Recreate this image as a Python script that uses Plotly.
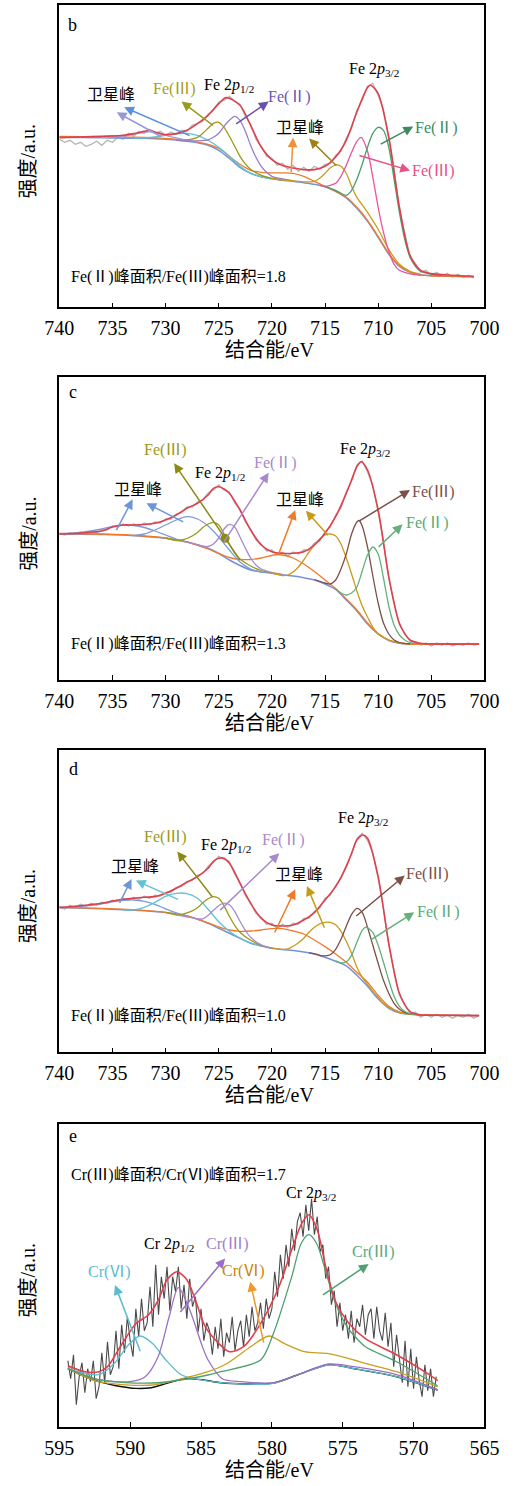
import plotly.graph_objects as go

W, H = 528, 1486
FONT = "Liberation Serif, Times New Roman, Noto Sans CJK SC, serif"

# ================= panel b (Fe 2p) =================
b_raw_x = [740,739.5,739,738.5,738,737.5,737,736.5,736,735.5,735,734.5,734,733.5,733,732.5,732,731.5,731,730.5,
           730,729.5,729,728.5,728,727.5,727,726.5,726,725.5,725,724.5,724,723.5,723,722.5,722,721.5,721,720.5,
           720,719.5,719,718.5,718,717.5,717,716.5,716,715.5,715,714.5,714,713.5,713,712.5,712,711.5,711,710.5,
           710,709.5,709,708.5,708,707.5,707,706.5,706,705.5,705,704.5,704,703.5,703,702.5,702,701.5,701]
b_raw_y = [168,165,167,163,165,161,163,166,162,167,165,170,168,174,171,176,174,178,174,176,
           172,175,173,177,176,182,184,186,193,197,205,207,211,206,203,191,183,168,161,151,
           149,142,144,138,142,136,140,136,141,138,143,144,152,156,169,179,197,207,221,224,
           212,198,168,137,98,75,50,44,35,37,32,35,31,34,30,33,30,32,29]
b_fit_x = [740,738,736,734,733,732,731.5,731,730,729,728,727,726,725,724.3,723,722,721,720,719,718,717,716,715,714,713,712,711,710.7,710,709,708,707,706,705,703,701]
b_fit_y = [169.7,170.3,171,172,173.7,176,177,175.3,172.7,173.7,177,183.7,192,203.7,209.7,202,182,160.3,147.7,141.7,139.3,137.7,137.7,141,150.3,167,195.3,219.7,222,213.7,170.3,100.3,52,37,33.7,32,31]
b_bg_x = [740,736,732,730,728,727,726,725,724,723,722,721,720,719,718,717,716,715,714,713,712,711,710,709,708,707,706,705,703,701]
b_bg_y = [170,169.5,169,168,166,164.5,162,157,149,140,134,130.5,128.5,127,126,124.5,123,120.5,116,109.5,99,86,70,53,41,35,32.5,31.5,31,30.5]
b_or_x = [740,736,732,730,728,726,725,724,723,722,721,720,719,718,717,716,715,714,713,712,711,710,709,708,707,706,705,703,701]
b_or_y = [171,170.5,170,169,167,163,159,151,143,137,135,134.5,134.5,134,131,126,121,116,110,100,87,71,54,41.5,35.5,32.5,31.5,31,30.5]
b_lav_x = [736,734,733,732,731.5,731,730,729,728,727]
b_lav_y = [170,171,173,175,175.5,175,172,169.5,167,165]
b_cy_x = [733,732,731,730,729,728,727,726,725,724,723,722,721,720]
b_cy_y = [169,169.5,170.5,172,173.5,174,172,167,160,151,141,134,130.5,128.5]
b_ol_x = [729,728,727,726.5,726,725.5,725,724.5,724,723.5,723,722.5,722,721,720,719]
b_ol_y = [167,167.5,170,174,179,184,185,180,171,161,151,143.5,138,132,129,127]
b_pu_x = [729,728,727,726,725.5,725,724.5,724,723.5,723,722.5,722,721.5,721,720.5,720,719,718]
b_pu_y = [167,166.5,166.5,167.5,170,174,181,187,191,187,176,162,150,141,135,131,128.5,126.5]
b_ye_x = [720,719,718,717,716,715.5,715,714.5,714,713.5,713,712.5,712,711,710,709,708,707,706]
b_ye_y = [129,127.5,126.5,125.5,126,129,134,139.5,142.5,141,134,121,110,95,78,58,43,36,33]
b_pk_x = [715.5,715,714.5,714,713.5,713,712.5,712,711.6,711,710.5,710,709.5,709,708.5,708,707,706]
b_pk_y = [122,121,122,124,131,142,155,166,170,156,130,100,75,56,43,37,33.5,32]
b_gr_x = [715,714,713,712.5,712,711.5,711,710.5,710,709.5,709,708.5,708,707.5,707,706.5,706,705,704]
b_gr_y = [121,117,112,117,128,143,160,174,180,177,160,128,95,68,50,41,36,33,32]

# ================= panel c =================
c_raw_x = [740,739.5,739,738.5,738,737.5,737,736.5,736,735.5,735,734.5,734,733.5,733,732.5,732,731.5,731,730.5,
           730,729.5,729,728.5,728,727.5,727,726.5,726,725.5,725,724.5,724,723.5,723,722.5,722,721.5,721,720.5,
           720,719.5,719,718.5,718,717.5,717,716.5,716,715.5,715,714.5,714,713.5,713,712.5,712,711.5,711,710.5,
           710,709.5,709,708.5,708,707.5,707,706.5,706,705.5,705,704.5,704,703.5,703,702.5,702,701.5,701,700.5]
c_raw_y = [147,145,147,146,148,146,149,147,150,150,154,153,156,154,156,154,157,155,158,157,
           161,161,166,167,173,173,178,180,187,190,195,190,188,177,171,158,151,140,136,129,
           130,125,128,124,128,126,130,130,137,139,148,153,165,172,188,199,215,219,208,194,
           168,139,101,79,55,47,39,38,35,37,34,37,35,37,34,36,35,37,35,36]
c_fit_x = [740,738,736,735,734,733,732,731,730,729,728,727,726,725.5,725,724.5,724,723,722,721,720,719,718,717,716,715,714,713,712.5,712,711.6,711,710,709,708,707,706,705,700.5]
c_fit_y = [146,147,149,153,155,155,155.5,156.7,160,165,171.7,176.7,185,191.7,193.3,191,186.7,170,150,135,128.3,126.7,126.7,128.3,135,146.7,163.3,186.7,200,213.3,218.3,210,170,103.3,56.7,40,36.7,36,36]
c_bg_x = [740,736,734,732,730,728,726,725,724,723,722,721,720,719,718,717,716,715,714,713,712,711,710,709,708,707,705,700.5]
c_bg_y = [146,145.5,145,143.5,141.7,138,131.7,126.5,120,114.5,110,108,106.7,105.3,104,102.3,100,96,90.5,80,69,56,46,39.5,36.7,36,36,36]
c_or_x = [740,736,732,730,728,726,725,724,723,722,721,720,719.5,719,718,717,716,715,714,713,712,711,710,709,708,707,700.5]
c_or_y = [146.5,146,144,142,138,131,126.5,122.5,120.5,120.5,122,124.5,125.5,125,122,116,108.5,100,91.5,81,70,57,46.5,40,37,36,36]
c_bs1_x = [740,738,736,735,734,733,732,731,730,729,728]
c_bs1_y = [146,147.5,151,153.5,155,154.5,152.5,149,145,141,138]
c_bs2_x = [733,732,731,730,729,728,727,726,725,724,723,722,721]
c_bs2_y = [144.5,146,150,155,160,163.3,161,154,143,130,118,111,108]
c_ol_x = [730,729,728.5,728,727.5,727,726.5,726,725.5,725,724.5,724,723.5,723,722,721,720]
c_ol_y = [142,139.5,140,141.5,144,147.5,152.5,156,157.7,155,146,136,127,121,114,109.5,107]
c_pu_x = [728,727,726,725.5,725,724.5,724,723.5,723,722.5,722,721.5,721,720,719]
c_pu_y = [138.5,135,133.5,136,142,151,155.5,153,143,132,122,115,111,107.5,105.5]
c_ye_x = [720,719,718.5,718,717.5,717,716.5,716,715.5,715,714.5,714,713.5,713,712.5,712,711.5,711,710.5,710,709,708,707]
c_ye_y = [107,104.5,105,108,113,120,128,135,141,145,146,144,136,122,106,89,74,63,53,46,40,37,36]
c_br_x = [716,715,714.5,714,713.5,713,712.5,712,711.8,711.5,711,710.5,710,709.5,709,708.5,708,707]
c_br_y = [100.5,97,96,100,111,126,146,158,159.5,154,133,104,77,57,46,40,37.5,36]
c_gr_x = [714,713.5,713,712.5,712,711.5,711,710.5,710,709.5,709,708.5,708,707.5,707,706]
c_gr_y = [91,87,85,87,93,109,125,133,126,102,74,55,45,40,37.5,36]
c_dot_x = [724.4]
c_dot_y = [141.7]

# ================= panel d =================
d_raw_x = c_raw_x
d_raw_y = [146,143,147,145,148,146,149,147,150,149,152,151,154,152,155,153,156,154,157,156,
           160,160,165,166,171,172,177,179,186,190,196,193,191,178,170,157,150,139,135,128,
           129,124,128,125,129,128,134,134,141,144,154,157,167,174,187,198,214,219,212,199,
           174,144,107,81,57,48,39,40,35,38,35,38,35,37,34,37,35,38,34,37]
d_fit_x = [740,738,736,735,734,733,732,731,730,729,728,727,726,725.5,725,724.5,724,723.5,723,722,721,720,719,718,717,716,715,714,713,712.5,712,711.4,711,710,709,708,707,706,705,700.5]
d_fit_y = [144.7,146.5,149,151.3,153,154,155,155.7,159,164,170,175.7,184,191,194,194,189,180,169,149,134,127.3,126.3,127.3,132.3,139.7,152.3,165.7,185.7,199,212.3,217.3,214,175.7,109,59,40.7,37.3,37,36.7]
d_bg_x = [740,736,734,732,730,728,726,725,724,723,722,721,720,719,718,717,716,715,714,713,712,711,710,709,708,707,706,705,700.5]
d_bg_y = [144.7,143.5,142.5,141.5,139.7,136.3,129,124,119,114,109,106.3,104,102.7,101.7,100.3,98.3,95,91,86.5,77,66,53.5,44,39.5,38,37.5,37.3,36.7]
d_or_x = [740,736,732,730,728,726,725,724,723,722,721,720,719,718,717,716,715,714,713,712,711,710,709,708,707,706,705,700.5]
d_or_y = [145,144,142,140,136.5,129.5,125.5,122.3,121,121.3,122.3,123.7,123.7,121.3,118.3,112.3,105.7,98.3,90,80,70,57,46,40.5,38.5,37.7,37.3,36.7]
d_bs_x = [740,738,736,735,734,733,732,731,730,729,728]
d_bs_y = [145,146,148.5,150.5,152,152.3,151,148,143.5,139.5,136.5]
d_cy_x = [734,733,732,731,730,729,728,727,726,725,724,723,722,721]
d_cy_y = [142.3,142.5,145,150,156,159,158.7,154,143,130.5,121,114,109.5,106.3]
d_ol_x = [730,729,728.5,728,727.5,727,726.5,726,725.5,725,724.5,724,723.5,723,722,721,720]
d_ol_y = [140,137.5,138,139.5,141.5,144.5,149.5,153.5,155.7,154,146.5,136,127,120,112,107,104]
d_pu_x = [729,728,727,726.5,726,725.5,725,724.6,724,723.5,723,722.5,722,721,720]
d_pu_y = [137.5,135.5,133.5,133.5,137,142,146.5,149,147.5,141,131,122,115,107.5,104.3]
d_ye_x = [720,719,718.5,718,717.5,717,716.5,716,715.5,715,714.5,714,713.5,713,712.5,712,711.5,711,710.5,710,709.5,709,708,707]
d_ye_y = [104.5,103,103.5,106,109.5,114,120,125,128.5,130,130,127.5,121,111,99,85,75,68,61,55,49,45,40,38]
d_br_x = [716.5,716,715.5,715,714.5,714,713.5,713,712.5,712,711.5,711,710.5,710,709.5,709,708.5,708,707.5,707,706]
d_br_y = [99.5,98.5,97,96.5,97.5,103,113,126,138,144,140,125,107,89,72,59,49,43,40,38.5,37.5]
d_gr_x = [714,713.5,713,712.5,712,711.5,711.2,711,710.5,710,709.5,709,708.5,708,707.5,707,706]
d_gr_y = [91.5,89.5,90.5,97,110,122,125,124.5,120,107,90,72,56,46,41,38.5,37.5]

# ================= panel e (Cr 2p) =================
e_raw_x = [594.4,594.2,594.0,593.8,593.6,593.4,593.2,593.0,592.8,592.6,592.4,592.2,592.0,591.8,591.6,591.4,591.2,591.0,590.8,590.6,
           590.4,590.2,590.0,589.8,589.6,589.4,589.2,589.0,588.8,588.6,588.4,588.2,588.0,587.8,587.6,587.4,587.2,587.0,586.8,586.6,
           586.4,586.2,586.0,585.8,585.6,585.4,585.2,585.0,584.8,584.6,584.4,584.2,584.0,583.8,583.6,583.4,583.2,583.0,582.8,582.6,
           582.4,582.2,582.0,581.8,581.6,581.4,581.2,581.0,580.8,580.6,580.4,580.2,580.0,579.8,579.6,579.4,579.2,579.0,578.8,578.6,
           578.4,578.2,578.0,577.8,577.6,577.4,577.2,577.0,576.8,576.6,576.4,576.2,576.0,575.8,575.6,575.4,575.2,575.0,574.8,574.6,
           574.4,574.2,574.0,573.8,573.6,573.4,573.2,573.0,572.8,572.6,572.4,572.2,572.0,571.8,571.6,571.4,571.2,571.0,570.8,570.6,
           570.4,570.2,570.0,569.8,569.6,569.4,569.2,569.0,568.8,568.6,568.4]
e_raw_y = [66,48,72,22,50,64,34,58,45,66,28,40,74,44,85,52,60,96,58,102,
           74,110,86,70,118,90,128,96,104,140,100,162,112,150,128,160,116,150,135,160,
           118,142,108,148,120,130,95,118,86,104,96,72,100,78,108,70,94,84,110,76,
           96,106,80,112,90,120,96,104,124,98,128,108,118,155,130,172,148,182,160,198,
           176,205,214,190,222,196,228,192,210,175,182,148,160,122,136,100,124,96,112,88,
           116,84,108,100,122,92,112,118,88,120,96,86,114,80,104,60,92,70,44,86,
           40,78,38,70,46,30,62,36,58,30,50]
e_fit_x = [594.4,593.2,592.2,591.6,590.7,589.6,588.7,588.0,587.4,586.7,586.0,585.4,584.7,583.8,583.0,582.0,580.8,579.5,578.6,577.9,577.4,576.8,576.2,575.5,574.6,573.4,571.2,569.0,568.3]
e_fit_y = [61,55,55,60,80,103,112,127,147,155,147,127,100,84,75,80,103,140,177,203,212,197,160,125,104,88,72,53,46]
e_bk_x = [594.4,593.2,592.2,591,589.6,588.5,587.8,587,586.2,584.9,583.6,580,578.2,576,574.2,571.2,568.3]
e_bk_y = [58,50,45,41,38.3,39,41.7,45,48,47,44,43.3,51.7,62,58,50,36.7]
e_cy_x = [594.4,592.25,591.14,590.05,589.3,588.4,587.5,586.4,585.1,583.6,579.9,578.2,576,574.2,571.2,568.3]
e_cy_y = [58,52,63,83,90.7,83,67,52,47,44,43.3,51.7,61.7,58,50,36.7]
e_pu_x = [594.4,592.25,590.05,588.94,588.03,587.25,586.6,585.8,584.9,584.5,583.5,582.15,579.9,578.2,576,574.2,571.2,568.3]
e_pu_y = [58,47,45,50,70,110,139,117,80,66.7,48,45,44,51.7,62.7,60,52,37]
e_ye_x = [594.4,592.25,588.4,585.8,584.5,583.2,581.5,580.2,579.1,577.7,576,574.2,573.4,571.2,568.3]
e_ye_y = [58,45,41.7,50,55,63,80,90.7,83,75,73,66.7,63.3,55,40]
e_gr_x = [594.4,592.25,588.4,584.5,583.6,580.8,579.9,578.6,577.94,577.4,576.83,576.16,575.5,574.6,574.2,573.4,571.2,568.3]
e_gr_y = [58,47,43.7,51.7,55,66.7,93,150,183,192,183,153,123,98,91,80,65,41]

fe_ticks = [740, 735, 730, 725, 720, 715, 710, 705, 700]
cr_ticks = [595, 590, 585, 580, 575, 570, 565]

# ---------------- colours ----------------
RED = '#e0404c'
GRAY = '#b5b5b5'
BLUE = '#7393d8'
ORANGE = '#f07a2a'
OLIVE = '#9c9a1c'
YEL = '#c99a1c'

# frames in pixels: (top, bottom)
frames = {1: (5.3, 307.3), 2: (377.3, 680.0), 3: (750.0, 1052.3), 4: (1124.0, 1426.7)}
XL, XR = 47.0, 497.7

fig = go.Figure()

def line(n, x, y, color, width=1.3, spline=True):
    fig.add_trace(go.Scatter(
        x=x, y=y, mode='lines', xaxis='x' if n == 1 else f'x{n}', yaxis='y' if n == 1 else f'y{n}',
        line=dict(color=color, width=width, shape='spline' if spline else 'linear', smoothing=0.8),
        showlegend=False, hoverinfo='skip'))

# panel b
line(1, b_raw_x, b_raw_y, GRAY, 1.3, spline=False)
line(1, b_bg_x, b_bg_y, BLUE, 1.5)
line(1, b_or_x, b_or_y, ORANGE, 1.3)
line(1, b_lav_x, b_lav_y, '#9aa0dc')
line(1, b_cy_x, b_cy_y, '#5ec4d6')
line(1, b_ol_x, b_ol_y, OLIVE)
line(1, b_pu_x, b_pu_y, '#9a7cc8')
line(1, b_ye_x, b_ye_y, YEL)
line(1, b_pk_x, b_pk_y, '#e8559a')
line(1, b_gr_x, b_gr_y, '#4c9e6c')
line(1, b_fit_x, b_fit_y, RED, 1.6)

# panel c
line(2, c_raw_x, c_raw_y, GRAY, 1.3, spline=False)
line(2, c_bg_x, c_bg_y, BLUE, 1.5)
line(2, c_or_x, c_or_y, ORANGE)
line(2, c_bs1_x, c_bs1_y, '#7a9ad8')
line(2, c_bs2_x, c_bs2_y, '#7a9ad8')
line(2, c_ol_x, c_ol_y, OLIVE)
line(2, c_pu_x, c_pu_y, '#a88ad0')
line(2, c_ye_x, c_ye_y, YEL)
line(2, c_br_x, c_br_y, '#7a5048')
line(2, c_gr_x, c_gr_y, '#62b07a')
line(2, c_fit_x, c_fit_y, RED, 1.6)
fig.add_trace(go.Scatter(x=c_dot_x, y=c_dot_y, mode='markers', xaxis='x2', yaxis='y2',
                         marker=dict(color='#8c8a14', size=9), showlegend=False, hoverinfo='skip'))

# panel d
line(3, d_raw_x, d_raw_y, GRAY, 1.3, spline=False)
line(3, d_bg_x, d_bg_y, BLUE, 1.5)
line(3, d_or_x, d_or_y, ORANGE)
line(3, d_bs_x, d_bs_y, '#7a9ad8')
line(3, d_cy_x, d_cy_y, '#62c2d2')
line(3, d_ol_x, d_ol_y, OLIVE)
line(3, d_pu_x, d_pu_y, '#a88ad0')
line(3, d_ye_x, d_ye_y, YEL)
line(3, d_br_x, d_br_y, '#7a5048')
line(3, d_gr_x, d_gr_y, '#62b07a')
line(3, d_fit_x, d_fit_y, RED, 1.6)

# panel e
line(4, e_raw_x, e_raw_y, '#4a4a4a', 1.1, spline=False)
line(4, e_bk_x, e_bk_y, '#111111', 1.4)
line(4, e_cy_x, e_cy_y, '#5bbccc', 1.3)
line(4, e_pu_x, e_pu_y, '#9b70c4', 1.3)
line(4, e_ye_x, e_ye_y, '#c8a020', 1.3)
line(4, e_gr_x, e_gr_y, '#4ea070', 1.3)
line(4, e_fit_x, e_fit_y, RED, 1.6)

# ---------------- axes ----------------
layout = dict(width=W, height=H, margin=dict(l=0, r=0, t=0, b=0),
              paper_bgcolor='white', plot_bgcolor='white', showlegend=False,
              font=dict(family=FONT, color='black'))
for n, (top, bot) in frames.items():
    sx = 'xaxis' if n == 1 else f'xaxis{n}'
    sy = 'yaxis' if n == 1 else f'yaxis{n}'
    fe = n < 4
    layout[sx] = dict(domain=[XL / W, XR / W], range=[740, 700] if fe else [595, 565],
                      tickvals=fe_ticks if fe else cr_ticks, ticks='inside', ticklen=5, tickwidth=1.2,
                      tickcolor='black', showline=True, mirror=True, linecolor='black', linewidth=1.6,
                      showgrid=False, zeroline=False, anchor='y' if n == 1 else f'y{n}',
                      tickfont=dict(family=FONT, size=20, color='black'), ticklabelstandoff=2)
    layout[sy] = dict(domain=[1 - bot / H, 1 - top / H], range=[0, bot - top], showticklabels=False,
                      ticks='', showline=True, mirror=True, linecolor='black', linewidth=1.6,
                      showgrid=False, zeroline=False, anchor='x' if n == 1 else f'x{n}')
fig.update_layout(**layout)

ann = []

def ref(n):
    return ('x', 'y') if n == 1 else (f'x{n}', f'y{n}')

def arrow(n, xt, yt, xh, yh, color):
    xr, yr = ref(n)
    ann.append(dict(xref=xr, yref=yr, axref=xr, ayref=yr, x=xh, y=yh, ax=xt, ay=yt, text='',
                    showarrow=True, arrowhead=2, arrowsize=1.3, arrowwidth=1.5, arrowcolor=color))

def label(n, x, y, text, color='black', size=16, xanchor='center'):
    xr, yr = ref(n)
    ann.append(dict(xref=xr, yref=yr, x=x, y=y, text=text, showarrow=False, xanchor=xanchor,
                    yanchor='middle', font=dict(family=FONT, size=size, color=color)))

P12 = 'Fe 2<i>p</i><sub>1/2</sub>'
P32 = 'Fe 2<i>p</i><sub>3/2</sub>'
SAT = '卫星峰'
F2 = 'Fe(Ⅱ)'
F3 = 'Fe(Ⅲ)'

# panel b annotations
arrow(1, 727.6, 171, 733.9, 200, '#5b8fe0')
arrow(1, 730.3, 170, 734.6, 195, '#9898d8')
arrow(1, 725.4, 180.7, 728.5, 205.7, OLIVE)
arrow(1, 723.5, 182.3, 720.3, 205.7, '#6b4faf')
arrow(1, 718.2, 133.7, 718.0, 169.7, '#f0903a')
arrow(1, 713.8, 140.3, 716.5, 168.7, '#a08018')
arrow(1, 709.9, 162.3, 706.7, 180.7, '#3f8a5e')
arrow(1, 711.9, 152.3, 707.0, 136.7, '#e8508a')
label(1, 735.1, 213, SAT)
label(1, 729.2, 218, F3, '#a6a020')
label(1, 724.0, 222, P12)
label(1, 718.3, 210.3, F2, '#6b55b5')
label(1, 717.4, 179.3, SAT)
label(1, 710.4, 237.3, P32)
label(1, 704.5, 179.7, F2, '#3f8a5e')
label(1, 704.8, 136, F3, '#e8508a')
label(1, 739.1, 30, 'Fe(Ⅱ)峰面积/Fe(Ⅲ)峰面积=1.8', xanchor='left')
label(1, 738.75, 282, 'b', size=18)

# panel c annotations
arrow(2, 734.7, 148.3, 733.1, 180.7, '#6f95d8')
arrow(2, 728.2, 157.3, 731.8, 176.7, '#6f95d8')
arrow(2, 722.9, 118.3, 729.2, 216.7, '#8c8a14')
arrow(2, 724.6, 136.7, 720.3, 207.3, '#a889cc')
arrow(2, 719.4, 125, 717.8, 170, '#f07a2a')
arrow(2, 714.6, 143.3, 716.8, 169.3, '#c89a1a')
arrow(2, 711.9, 158.3, 707.0, 190, '#7a5048')
arrow(2, 710.1, 131.7, 707.7, 155.7, '#62b07a')
label(2, 730.0, 230, F3, '#9a9a20')
label(2, 724.9, 206.7, P12)
label(2, 719.7, 216.7, F2, '#a889cc')
label(2, 732.6, 190, SAT)
label(2, 717.4, 180, SAT)
label(2, 711.2, 230.7, P32)
label(2, 704.8, 188.3, F3, '#7a5048')
label(2, 705.4, 156.7, F2, '#5aaa72')
label(2, 739.1, 36, 'Fe(Ⅱ)峰面积/Fe(Ⅲ)峰面积=1.3', xanchor='left')
label(2, 738.7, 288.3, 'c', size=18)

# panel d annotations
arrow(3, 734.4, 148, 733.2, 173.3, '#6f95d8')
arrow(3, 728.7, 152.3, 732.8, 171.7, '#62c2d2')
arrow(3, 725.5, 154, 728.9, 200.7, '#8c8a14')
arrow(3, 725.0, 140.7, 719.3, 199, '#a889cc')
arrow(3, 719.8, 118.3, 717.8, 163, '#f07a2a')
arrow(3, 715.0, 123, 716.7, 166.3, '#c89a1a')
arrow(3, 712.2, 135, 707.5, 176.7, '#7a5048')
arrow(3, 710.8, 111.7, 706.6, 140, '#62b07a')
label(3, 732.9, 185.7, SAT)
label(3, 730.0, 215, F3, '#9a9a20')
label(3, 724.35, 206.7, P12)
label(3, 718.9, 212.3, F2, '#a889cc')
label(3, 717.45, 178.3, SAT)
label(3, 711.4, 234, P32)
label(3, 705.4, 178.3, F3, '#7a5048')
label(3, 704.3, 140.7, F2, '#5aaa72')
label(3, 739.1, 36.3, 'Fe(Ⅱ)峰面积/Fe(Ⅲ)峰面积=1.0', xanchor='left')
label(3, 738.7, 283.3, 'd', size=18)

# panel e annotations
arrow(4, 589.25, 74, 591.07, 141.7, '#5bbccc')
arrow(4, 586.55, 113.3, 583.3, 168.3, '#9b70c4')
arrow(4, 580.55, 82.7, 581.53, 145, '#f0982a')
arrow(4, 576.5, 130.7, 573.17, 162.7, '#4ea070')
label(4, 594.33, 251.7, 'Cr(Ⅲ)峰面积/Cr(Ⅵ)峰面积=1.7', xanchor='left')
label(4, 577.27, 233.3, 'Cr 2<i>p</i><sub>3/2</sub>')
label(4, 587.26, 182.3, 'Cr 2<i>p</i><sub>1/2</sub>')
label(4, 583.1, 182.3, 'Cr(Ⅲ)', '#a080cc')
label(4, 591.43, 155, 'Cr(Ⅵ)', '#5bbccc')
label(4, 581.98, 156, 'Cr(Ⅵ)', '#c8860a')
label(4, 572.83, 175, 'Cr(Ⅲ)', '#5aaa78')
label(4, 594.0, 291, 'e', size=18)

# axis titles
for n, (top, bot) in frames.items():
    ann.append(dict(xref='paper', yref='paper', x=270 / W, y=1 - (bot + 43) / H, text='结合能/eV',
                    showarrow=False, xanchor='center', yanchor='middle',
                    font=dict(family=FONT, size=20, color='black')))
    ann.append(dict(xref='paper', yref='paper', x=14 / W, y=1 - ((top + bot) / 2 + 5) / H, text='强度/a.u.',
                    showarrow=False, xanchor='center', yanchor='middle', textangle=-90,
                    font=dict(family=FONT, size=20, color='black')))

fig.update_layout(annotations=ann)
fig.write_html('out.html')
